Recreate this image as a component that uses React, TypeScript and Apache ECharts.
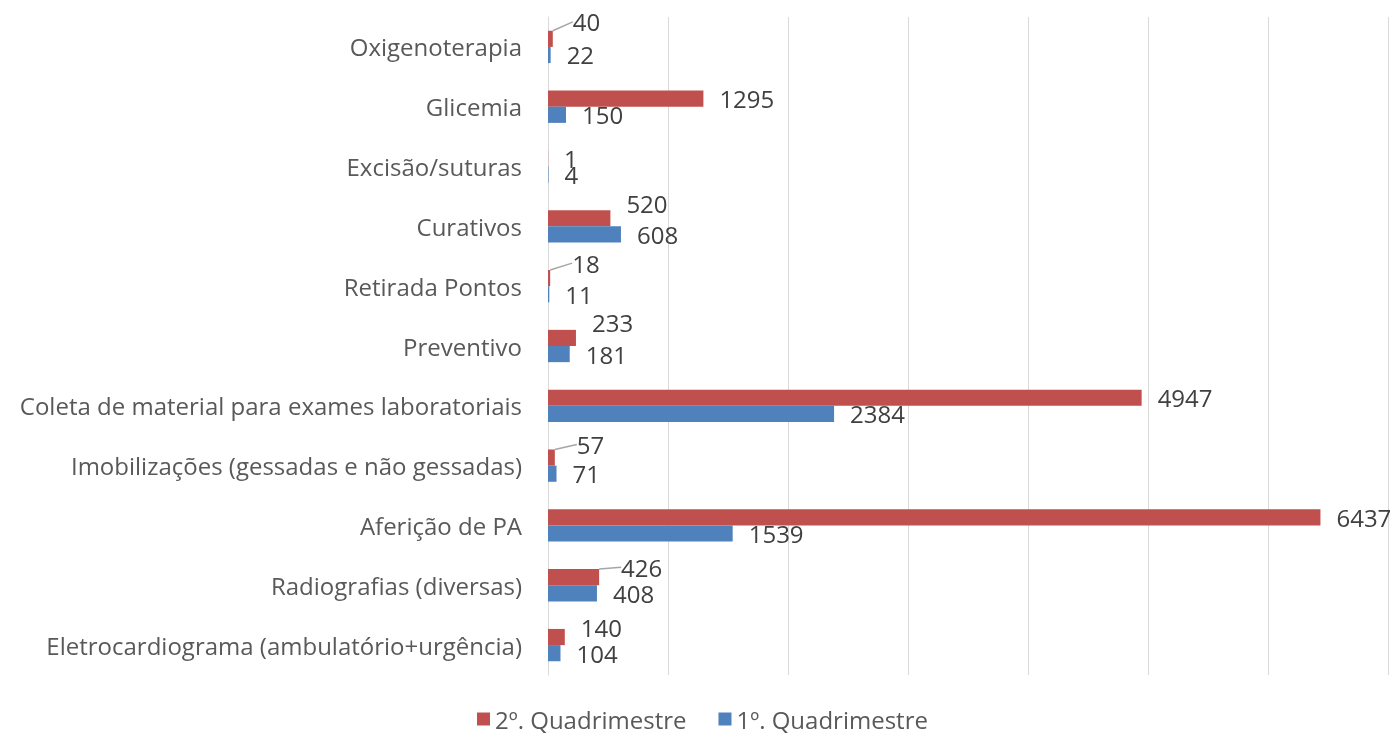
import React, { useEffect, useRef } from "react";
import * as echarts from "echarts";

const categories = [
  "Eletrocardiograma (ambulatório+urgência)",
  "Radiografias (diversas)",
  "Aferição de PA",
  "Imobilizações (gessadas e não gessadas)",
  "Coleta de material para exames laboratoriais",
  "Preventivo",
  "Retirada Pontos",
  "Curativos",
  "Excisão/suturas",
  "Glicemia",
  "Oxigenoterapia",
];
const q2Values = [140, 426, 6437, 57, 4947, 233, 18, 520, 1, 1295, 40];
const q1Values = [104, 408, 1539, 71, 2384, 181, 11, 608, 4, 150, 22];
const seriesNames = ["2º. Quadrimestre", "1º. Quadrimestre"];

// label layout tweaks for the red series (dx, dy, leader line)
const q2LabelShift: [number, number, boolean][] = [
  [0, -10, false],
  [6, -10, true],
  [0, 0, false],
  [6, -13, true],
  [0, 0, false],
  [0, -15, false],
  [6, -15, true],
  [0, -15, false],
  [0, 0, false],
  [0, 0, false],
  [4, -17, true],
];

const FONT = "'Open Sans', sans-serif";
const FS = 24;

export default function App() {
  const ref = useRef<HTMLDivElement>(null);
  useEffect(() => {
    if (!ref.current) return;
    const chart = echarts.init(ref.current, null, { renderer: "svg" });
    const label = {
      show: true,
      position: "right",
      distance: 16,
      fontSize: FS,
      color: "#404040",
      fontFamily: FONT,
    };
    chart.setOption({
      animation: false,
      textStyle: { fontFamily: FONT },
      grid: { left: 548, right: 7, top: 17, bottom: 64, containLabel: false },
      legend: {
        data: seriesNames,
        bottom: 3,
        left: 472,
        itemWidth: 13,
        itemHeight: 13,
        itemGap: 32,
        icon: "rect",
        textStyle: { fontSize: FS, color: "#595959", fontFamily: FONT },
      },
      xAxis: {
        type: "value",
        min: 0,
        max: 7000,
        interval: 1000,
        axisLabel: { show: false },
        axisLine: { show: false },
        axisTick: { show: false },
        splitLine: { lineStyle: { color: "#d9d9d9", width: 1 } },
      },
      yAxis: {
        type: "category",
        data: categories,
        axisTick: { show: false },
        axisLine: { show: true, lineStyle: { color: "#d9d9d9" } },
        axisLabel: { fontSize: FS, color: "#595959", margin: 26, fontFamily: FONT },
      },
      series: [
        {
          name: seriesNames[0],
          type: "bar",
          data: q2Values.map((v, i) => ({
            value: v,
            labelLine: { show: q2LabelShift[i][2] },
          })),
          barGap: "0%",
          barCategoryGap: "46%",
          itemStyle: { color: "#C0504D" },
          label,
          labelLine: { show: false, lineStyle: { color: "#a6a6a6", width: 1.5 } },
          labelLayout: (p: any) => {
            const s = q2LabelShift[p.dataIndex];
            return { dx: s[0], dy: s[1] };
          },
        },
        {
          name: seriesNames[1],
          type: "bar",
          data: q1Values,
          barGap: "0%",
          barCategoryGap: "46%",
          itemStyle: { color: "#4F81BD" },
          label,
        },
      ],
    });
    return () => chart.dispose();
  }, []);
  return (
    <div
      ref={ref}
      style={{ position: "fixed", left: 0, top: 0, width: 1395, height: 739 }}
    />
  );
}
